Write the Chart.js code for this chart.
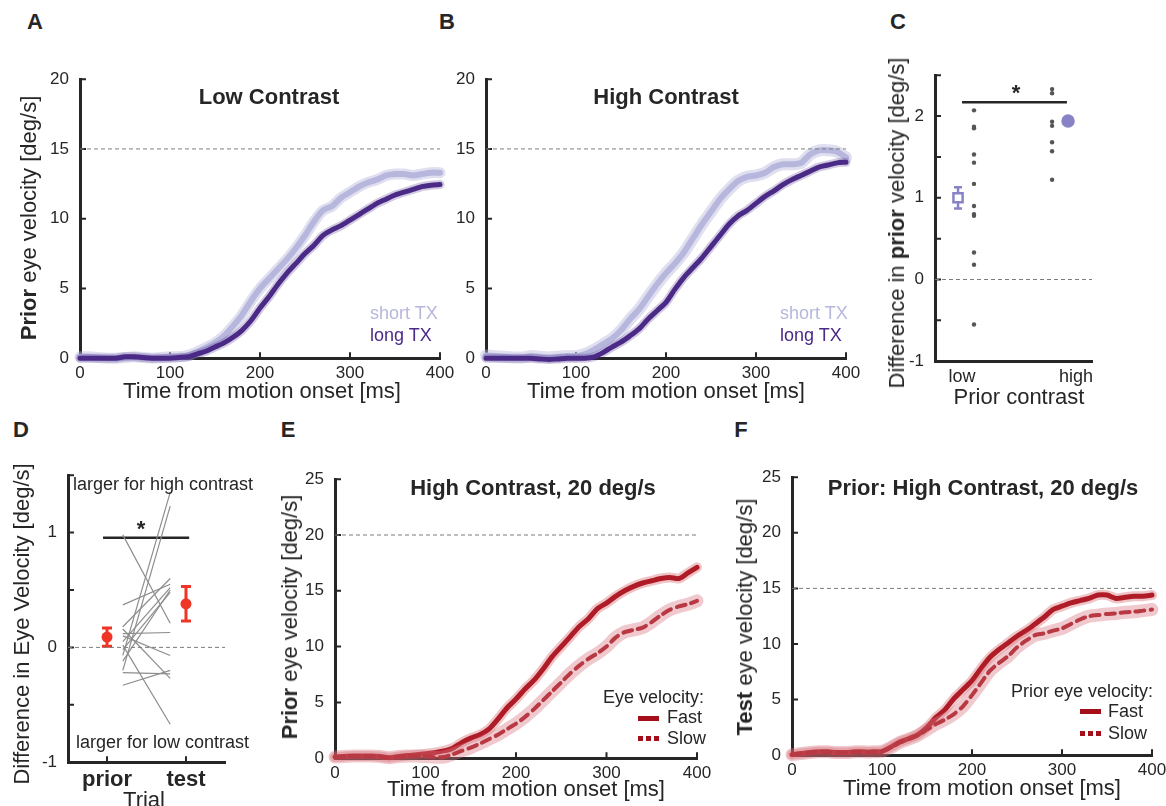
<!DOCTYPE html>
<html>
<head>
<meta charset="utf-8">
<script src="https://cdn.jsdelivr.net/npm/chart.js@4.4.0/dist/chart.umd.min.js"></script>
<style>
  body { margin: 0; background: #fff; }
  #fig { position: relative; width: 1166px; height: 806px; overflow: hidden;
         font-family: "Liberation Sans", Arial, Helvetica, sans-serif; color: #262626; }
  .box { position: absolute; }
  .txt { position: absolute; white-space: nowrap; line-height: 1; z-index: 5; }
  .sw { position: absolute; width: 21px; height: 5px; z-index: 5; }
</style>
</head>
<body>
<div id="fig"></div>
<script>
// time axis shared by the velocity traces (ms)
const timeMs = [0,10,20,30,40,50,60,70,80,90,100,110,120,130,140,150,160,170,180,190,200,
                210,220,230,240,250,260,270,280,290,300,310,320,330,340,350,360,370,380,390,400];

// A: low contrast
const lowShortTX = [0.10,0.10,0.05,0.00,0.00,0.05,0.10,0.05,0.00,0.05,0.10,0.10,0.20,0.45,0.75,1.10,1.60,2.30,3.10,4.10,5.00,
                    5.70,6.40,7.10,7.90,8.80,9.80,10.60,10.90,11.50,11.90,12.30,12.60,12.80,13.10,13.20,13.20,13.10,13.20,13.30,13.30];
const lowLongTX = [0.00,0.00,0.00,0.00,0.00,0.10,0.10,0.05,0.00,0.00,0.00,0.05,0.10,0.30,0.50,0.80,1.10,1.50,2.00,2.70,3.60,
                   4.40,5.30,6.10,6.80,7.50,8.10,8.80,9.20,9.50,9.90,10.30,10.70,11.10,11.40,11.70,11.90,12.10,12.30,12.40,12.45];
// B: high contrast
const highShortTX = [0.20,0.15,0.10,0.05,0.05,0.15,0.10,0.05,0.10,0.15,0.15,0.30,0.60,1.00,1.40,2.00,2.80,3.50,4.40,5.30,6.10,
                     6.80,7.60,8.60,9.60,10.50,11.40,12.10,12.70,13.00,13.10,13.30,13.70,13.90,13.90,14.00,14.60,14.90,14.90,14.80,14.40];
const highLongTX = [0.00,0.00,0.00,0.00,0.00,0.00,-0.05,-0.10,-0.05,0.00,0.00,0.00,0.10,0.40,0.80,1.15,1.60,2.10,2.80,3.40,4.00,
                    4.95,5.80,6.50,7.20,8.00,8.80,9.60,10.20,10.60,11.10,11.60,12.00,12.45,12.80,13.10,13.40,13.70,13.85,14.00,14.05];
// E: prior trial, high contrast 20 deg/s
const priorFast = [0.10,0.15,0.20,0.20,0.20,0.15,0.05,0.15,0.25,0.30,0.40,0.50,0.65,0.90,1.40,1.80,2.10,2.60,3.50,4.50,5.30,
                   6.20,7.00,8.00,9.10,10.00,10.90,11.80,12.50,13.40,13.90,14.50,15.00,15.40,15.70,15.90,16.10,16.20,16.10,16.60,17.10];
const priorSlow = [0.10,0.15,0.20,0.20,0.20,0.15,0.05,0.15,0.20,0.20,0.15,0.08,0.10,0.35,0.65,0.95,1.30,1.70,2.10,2.60,3.10,
                   3.70,4.40,5.20,6.00,6.80,7.60,8.30,8.90,9.40,10.00,10.80,11.30,11.50,11.70,12.20,12.80,13.30,13.60,13.80,14.10];
// F: test trial after high contrast 20 deg/s prior
const testFast = [0.05,0.15,0.25,0.30,0.30,0.25,0.25,0.30,0.30,0.30,0.35,0.75,1.20,1.50,1.85,2.50,3.40,4.10,5.10,5.90,6.70,
                  7.80,8.80,9.50,10.10,10.70,11.20,11.80,12.40,13.10,13.40,13.70,13.90,14.10,14.40,14.40,14.10,14.20,14.30,14.30,14.40];
const testSlow = [0.05,0.15,0.25,0.30,0.30,0.25,0.25,0.30,0.30,0.30,0.35,0.70,1.15,1.45,1.80,2.30,2.80,3.20,3.70,4.40,5.40,
                  6.50,7.60,8.30,8.90,9.70,10.30,10.80,10.95,11.20,11.40,11.80,12.20,12.50,12.60,12.70,12.75,12.85,12.90,13.00,13.10];

// C: difference in prior velocity per subject
const contrastLabels = ['low', 'high'];
const lowSubjDiff = [2.07,1.87,1.85,1.53,1.43,1.17,0.90,0.80,0.78,0.33,0.18,-0.55];
const highSubjDiff = [2.33,2.28,1.93,1.88,1.68,1.57,1.22];
const contrastMean = [1.00, 1.94];
const contrastSem = [0.13, 0.03];
const sigC = [1.00, 1.92, 2.17];   // from, to, level

// D: difference in eye velocity, prior vs test
const trialLabels = ['prior', 'test'];
const subjPrior = [0.98,0.37,0.18,0.16,0.12,0.05,0.02,-0.07,-0.12,-0.20,-0.22,-0.33,0.10,-0.02];
const subjTest  = [0.21,0.55,0.60,-0.27,0.13,0.52,-0.67,1.35,0.50,1.23,-0.23,-0.20,-0.07,0.48];
const trialMean = [0.09, 0.38];
const trialSem = [0.08, 0.15];
const sigD = [0.95, 2.04, 0.955];

const FONT = "'Liberation Sans', Arial, Helvetica, sans-serif";
const INK = '#262626';
const LIGHT = '#b7b7de', DARK = '#4a2a86', RED = '#a50f1a', ORANGE = '#ee3526', MPURP = '#8883c6';
const PAD = { l: 50, r: 30, t: 16, b: 40 };
const fig = document.getElementById('fig');

Chart.defaults.font.family = FONT;
Chart.defaults.color = INK;

const inwardTicks = {
  id: 'inwardTicks',
  beforeDatasetsDraw(chart, args, opts) {
    const { ctx, chartArea: a, scales: { x, y } } = chart;
    ctx.save();
    ctx.strokeStyle = INK;
    ctx.lineWidth = 2;
    ctx.beginPath();
    if (opts.x) x.ticks.forEach(t => {
      const p = x.getPixelForValue(t.value);
      ctx.moveTo(p, a.bottom); ctx.lineTo(p, a.bottom - 6);
    });
    y.ticks.forEach(t => {
      const p = y.getPixelForValue(t.value);
      ctx.moveTo(a.left, p); ctx.lineTo(a.left + 6, p);
    });
    ctx.stroke();
    ctx.restore();
  }
};

const errorBars = {
  id: 'errorBars',
  beforeDatasetsDraw(chart, args, opts) {
    const { ctx, scales: { x, y } } = chart;
    (opts.items || []).forEach(it => {
      const px = x.getPixelForValue(it.x);
      const top = y.getPixelForValue(it.y + it.e), bot = y.getPixelForValue(it.y - it.e);
      ctx.save();
      ctx.strokeStyle = it.color;
      ctx.lineWidth = it.width;
      ctx.beginPath();
      ctx.moveTo(px, top); ctx.lineTo(px, bot);
      ctx.moveTo(px - it.cap, top); ctx.lineTo(px + it.cap, top);
      ctx.moveTo(px - it.cap, bot); ctx.lineTo(px + it.cap, bot);
      ctx.stroke();
      ctx.restore();
    });
  }
};

function axis(c, which) {
  const o = {
    type: 'linear', min: c.min, max: c.max,
    grid: { display: false, drawTicks: false },
    border: { display: true, color: INK, width: 3 },
    ticks: {
      color: INK, font: c.font || { size: 17 }, padding: which === 'x' ? 5 : 11,
      stepSize: c.step, autoSkip: false, maxRotation: 0,
      callback: c.label || (v => v)
    },
    afterFit: s => { if (which === 'x') s.height = PAD.b; else s.width = PAD.l; }
  };
  if (c.at) o.afterBuildTicks = s => { s.ticks = c.at.map(v => ({ value: v })); };
  return o;
}

function makeChart(area, datasets, xc, yc, extra = {}) {
  const box = document.createElement('div');
  box.className = 'box';
  let L = area.l - PAD.l, T = area.t - PAD.t;
  let W = area.r - area.l + PAD.l + PAD.r, H = area.b - area.t + PAD.t + PAD.b;
  const setBox = () => {
    box.style.left = L + 'px'; box.style.top = T + 'px';
    box.style.width = W + 'px'; box.style.height = H + 'px';
  };
  setBox();
  const cv = document.createElement('canvas');
  box.appendChild(cv);
  fig.appendChild(box);
  const chart = new Chart(cv, {
    type: 'line',
    data: { datasets },
    options: {
      responsive: true, maintainAspectRatio: false, animation: false,
      events: [],
      layout: { padding: { top: PAD.t, right: PAD.r, left: 0, bottom: 0 } },
      plugins: {
        legend: { display: false }, tooltip: { enabled: false },
        inwardTicks: { x: extra.xTicks !== false },
        errorBars: { items: extra.errors || [] }
      },
      scales: { x: axis(xc, 'x'), y: axis(yc, 'y') }
    },
    plugins: [inwardTicks, errorBars]
  });
  // nudge the box so the plot area lands where the reference has it
  const ca = chart.chartArea;
  L += area.l - (L + ca.left);
  T += area.t - (T + ca.top);
  W += (area.r - area.l) - (ca.right - ca.left);
  H += (area.b - area.t) - (ca.bottom - ca.top);
  setBox();
  chart.resize(W, H);
  return chart;
}

const pts = ys => ys.map((v, i) => ({ x: timeMs[i], y: v }));
const curve = (ys, color, width, dash) => ({
  data: pts(ys), borderColor: color, borderWidth: width, borderDash: dash || [],
  pointRadius: 0, tension: 0.25, clip: false, borderCapStyle: 'round'
});
const refLine = (x0, x1, y) => ({
  data: [{ x: x0, y }, { x: x1, y }], borderColor: '#7d7d7d', borderWidth: 1,
  borderDash: [4, 3], pointRadius: 0
});
const segment = (x0, x1, y, color, w) => ({
  data: [{ x: x0, y }, { x: x1, y }], borderColor: color, borderWidth: w, pointRadius: 0
});

const timeX = { min: 0, max: 400, step: 100 };

// A
makeChart({ l: 80, t: 79, r: 440, b: 358 }, [
  refLine(0, 400, 15),
  curve(lowLongTX, 'rgba(74,42,134,0.25)', 9),
  curve(lowLongTX, DARK, 5),
  curve(lowShortTX, 'rgba(183,183,222,0.45)', 11),
  curve(lowShortTX, LIGHT, 6)
], timeX, { min: 0, max: 20, step: 5 });

// B
makeChart({ l: 486, t: 79, r: 846, b: 358 }, [
  refLine(0, 400, 15),
  curve(highLongTX, 'rgba(74,42,134,0.25)', 9),
  curve(highLongTX, DARK, 5),
  curve(highShortTX, 'rgba(183,183,222,0.45)', 12),
  curve(highShortTX, LIGHT, 6)
], timeX, { min: 0, max: 20, step: 5 });

// C
makeChart({ l: 935, t: 75, r: 1092, b: 361 }, [
  refLine(0.763, 2.14, 0),
  segment(sigC[0], sigC[1], sigC[2], INK, 2.5),
  { data: lowSubjDiff.map(v => ({ x: 1.105, y: v })), showLine: false, pointRadius: 2.2,
    pointBackgroundColor: '#555', pointBorderWidth: 0 },
  { data: highSubjDiff.map(v => ({ x: 1.79, y: v })), showLine: false, pointRadius: 2.2,
    pointBackgroundColor: '#555', pointBorderWidth: 0 },
  { data: contrastMean.map((v, i) => ({ x: i + 1 + (i ? -0.07 : -0.035), y: v })), showLine: false,
    pointStyle: ['rect', 'circle'], pointRadius: [6.5, 5.5], pointBorderWidth: 2.5,
    pointBorderColor: MPURP, pointBackgroundColor: ['#ffffff', MPURP] }
], { min: 0.763, max: 2.14, at: [1, 2], font: { size: 18 }, label: (v, i) => contrastLabels[i] },
   { min: -1, max: 2.5, step: 0.5, label: v => (Number.isInteger(v) ? v : '') },
   { xTicks: false,
     errors: contrastMean.map((v, i) => ({ x: i + 1 + (i ? -0.07 : -0.035), y: v, e: contrastSem[i],
                                          color: MPURP, width: 2.5, cap: 4 })) });

// D
makeChart({ l: 68, t: 475, r: 225, b: 762 }, [
  refLine(0.506, 2.494, 0),
  ...subjPrior.map((v, i) => ({ data: [{ x: 1.2, y: v }, { x: 1.8, y: subjTest[i] }],
                               borderColor: '#8d8d8d', borderWidth: 1.2, pointRadius: 0 })),
  segment(sigD[0], sigD[1], sigD[2], INK, 2.5),
  { data: trialMean.map((v, i) => ({ x: i + 1, y: v })), showLine: false, pointRadius: 5.5,
    pointBackgroundColor: ORANGE, pointBorderWidth: 0 }
], { min: 0.506, max: 2.494, at: [1, 2], font: { size: 22, weight: 'bold' }, label: (v, i) => trialLabels[i] },
   { min: -1, max: 1.5, step: 0.5, label: v => (Number.isInteger(v) ? v : '') },
   { errors: trialMean.map((v, i) => ({ x: i + 1, y: v, e: trialSem[i], color: ORANGE, width: 3, cap: 5 })) });

// E
makeChart({ l: 335, t: 479, r: 697, b: 758 }, [
  refLine(0, 400, 20),
  curve(priorSlow, 'rgba(214,120,130,0.4)', 13),
  curve(priorSlow, RED, 4, [9, 6]),
  curve(priorFast, 'rgba(200,60,70,0.3)', 10),
  curve(priorFast, RED, 5)
], timeX, { min: 0, max: 25, step: 5 });

// F
makeChart({ l: 792, t: 477, r: 1152, b: 755 }, [
  refLine(0, 400, 15),
  curve(testSlow, 'rgba(214,120,130,0.4)', 13),
  curve(testSlow, RED, 4, [9, 6]),
  curve(testFast, 'rgba(200,60,70,0.3)', 10),
  curve(testFast, RED, 5)
], timeX, { min: 0, max: 25, step: 5 });

// text
function label(html, x, y, o = {}) {
  const el = document.createElement('div');
  el.className = 'txt';
  el.innerHTML = html;
  el.style.left = x + 'px';
  el.style.top = y + 'px';
  el.style.fontSize = (o.size || 22) + 'px';
  if (o.bold) el.style.fontWeight = 'bold';
  if (o.color) el.style.color = o.color;
  const ax = o.align === 'left' ? '0' : o.align === 'right' ? '-100%' : '-50%';
  el.style.transform = `translate(${ax}, -50%)` + (o.rot ? ' rotate(-90deg)' : '');
  fig.appendChild(el);
}
function swatch(x, y, dotted) {
  const s = document.createElement('div');
  s.className = 'sw';
  s.style.left = x + 'px';
  s.style.top = (y - 2.5) + 'px';
  s.style.background = dotted ? `repeating-linear-gradient(to right, ${RED} 0 5px, transparent 5px 8px)` : RED;
  fig.appendChild(s);
}

[['A', 35, 22], ['B', 447, 22], ['C', 898, 22], ['D', 21, 430], ['E', 288, 430], ['F', 741, 430]]
  .forEach(([t, x, y]) => label(t, x, y, { bold: true }));

label('Low Contrast', 269, 97, { bold: true });
label('High Contrast', 666, 97, { bold: true });
label('High Contrast, 20 deg/s', 533, 488, { bold: true });
label('Prior: High Contrast, 20 deg/s', 983, 488, { bold: true });

label('Time from motion onset [ms]', 262, 391);
label('Time from motion onset [ms]', 666, 391);
label('Time from motion onset [ms]', 526, 789);
label('Time from motion onset [ms]', 982, 788);
label('Prior contrast', 1019, 397);
label('Trial', 144, 800);

label('<b>Prior</b> eye velocity [deg/s]', 29, 218, { rot: true });
label('Difference in <b>prior</b> velocity [deg/s]', 897, 223, { rot: true });
label('Difference in Eye Velocity [deg/s]', 22, 624, { rot: true });
label('<b>Prior</b> eye velocity [deg/s]', 290, 617, { rot: true });
label('<b>Test</b> eye velocity [deg/s]', 745, 617, { rot: true });

label('short TX', 370, 313, { size: 18, align: 'left', color: LIGHT });
label('long TX', 370, 335, { size: 18, align: 'left', color: DARK });
label('short TX', 780, 313, { size: 18, align: 'left', color: LIGHT });
label('long TX', 780, 335, { size: 18, align: 'left', color: DARK });

label('*', 1016, 93, { bold: true });
label('*', 141, 529, { bold: true });
label('larger for high contrast', 73, 484, { size: 18, align: 'left' });
label('larger for low contrast', 76, 742, { size: 18, align: 'left' });

label('Eye velocity:', 704, 697, { size: 18, align: 'right' });
swatch(638, 718, false);
label('Fast', 667, 717, { size: 18, align: 'left' });
swatch(638, 738, true);
label('Slow', 667, 738, { size: 18, align: 'left' });

label('Prior eye velocity:', 1153, 691, { size: 18, align: 'right' });
swatch(1080, 711, false);
label('Fast', 1108, 711, { size: 18, align: 'left' });
swatch(1080, 733, true);
label('Slow', 1108, 733, { size: 18, align: 'left' });
</script>
</body>
</html>
